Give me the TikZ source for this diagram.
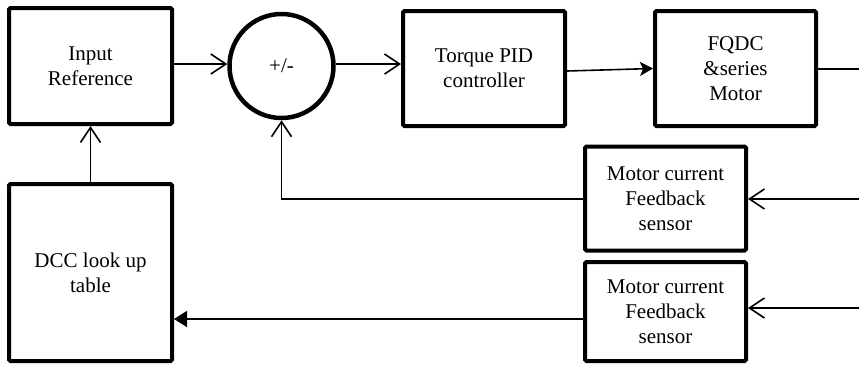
\documentclass[tikz,border=0pt]{standalone}
\usepackage{fontspec}
\setmainfont{Liberation Serif}
\usetikzlibrary{arrows.meta}
\begin{document}
\begin{tikzpicture}[x=1pt,y=-1pt,
  blk/.style={draw,line width=4pt,rounded corners=1.5pt,align=center,inner sep=2pt,
    font=\fontsize{21}{25}\selectfont},
  sumc/.style={draw,circle,line width=4.5pt,minimum size=104pt,inner sep=0pt,
    font=\fontsize{21}{25}\selectfont},
  conn/.style={line width=1.6pt},
  openarr/.style={conn,-{Straight Barb[length=15pt,width=20pt,line width=1.6pt]}},
  fillarr/.style={conn,-{Stealth[length=13pt,width=14pt,inset=3pt]}},
  triarr/.style={conn,-{Triangle[length=13pt,width=16pt]}}]
\useasboundingbox (0,0) rectangle (859,365);
\node[blk,minimum width=163pt,minimum height=116pt] (input) at (90.5,66) {Input\\Reference};
\node[sumc] (sum) at (281.5,66) {+/-};
\node[blk,minimum width=162pt,minimum height=115pt] (pid) at (484,68.5) {Torque PID\\controller};
\node[blk,minimum width=161pt,minimum height=115pt] (motor) at (735.5,68.5) {FQDC\\\&series\\Motor};
\node[blk,minimum width=163pt,minimum height=177pt] (dcc) at (90.5,272.5) {DCC look up\\table};
\node[blk,minimum width=161pt,minimum height=104pt] (s1) at (665.5,198.5) {Motor current\\Feedback\\sensor};
\node[blk,minimum width=161pt,minimum height=99pt] (s2) at (665.5,311.5) {Motor current\\Feedback\\sensor};
\coordinate (out) at (859,69);
\coordinate (in1) at (859,199);
\coordinate (in2) at (859,308);
\coordinate (fb) at (281.5,199);
\draw[openarr] (input.east |- 0,64) -- (sum.west |- 0,64);
\draw[openarr] (sum.east |- 0,64) -- (pid.west |- 0,64);
\draw[fillarr] ([yshift=-2.5pt]pid.east) -- (motor.west);
\draw[conn] (motor.east |- out) -- (out);
\draw[openarr] (dcc.north) -- (input.south);
\draw[openarr] (s1.west |- fb) -- (fb) -- (sum.south);
\draw[openarr] (in1) -- (s1.east |- in1);
\draw[openarr] (in2) -- (s2.east |- in2);
\draw[triarr] (s2.west |- 0,319) -- (dcc.east |- 0,319);
\end{tikzpicture}
\end{document}
